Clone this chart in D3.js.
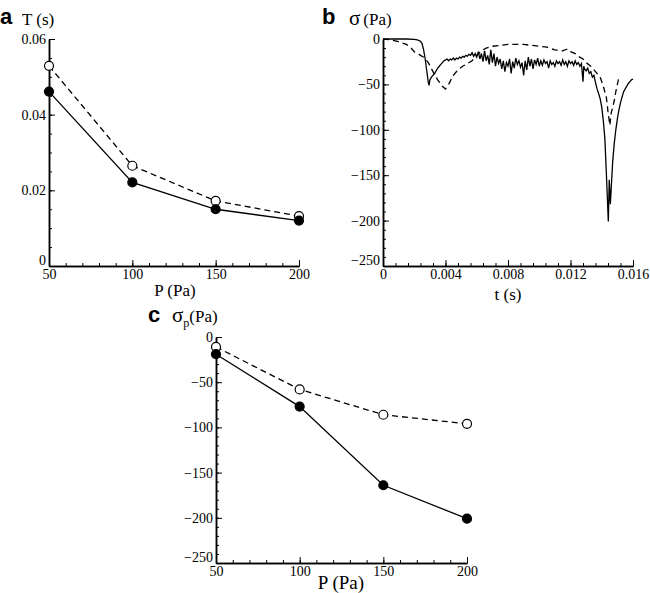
<!DOCTYPE html>
<html>
<head>
<meta charset="utf-8">
<script src="https://cdn.jsdelivr.net/npm/d3@7"></script>
<style>
  body { margin: 0; background: #fff; }
  svg text { font-family: "Liberation Serif", "DejaVu Serif", "Times New Roman", serif; fill: #000; }
  svg text.letter { font-family: "Liberation Sans", "DejaVu Sans", Arial, sans-serif; font-weight: bold; }
</style>
</head>
<body>
<svg id="chart" width="650" height="593"></svg>
<script>
// panel a / c pressures
let pressures = [50, 100, 150, 200];
let periodOpen = [0.0529, 0.0265, 0.0172, 0.0132];
let periodFilled = [0.0461, 0.0221, 0.0150, 0.0120];
let peakOpen = [-11, -58, -86, -96];
let peakFilled = [-19, -77, -164, -201];

// panel b time traces
let tSolid = [0, 0.0005, 0.001, 0.0015, 0.002, 0.0022, 0.0024, 0.0025, 0.0026, 0.0027, 0.0028, 0.0029, 0.00295,
  0.003, 0.0031, 0.0032, 0.0033, 0.0034, 0.0035, 0.0036, 0.0037, 0.0038, 0.0039,
  0.004, 0.0041, 0.0042, 0.0043, 0.0044, 0.0045, 0.0046, 0.0047, 0.0048, 0.0049,
  0.005, 0.0051, 0.0052, 0.0053, 0.0054, 0.0055, 0.0056, 0.0057, 0.0058, 0.0059,
  0.006, 0.0061, 0.0062, 0.0063, 0.0064, 0.0065, 0.0066, 0.0067, 0.0068, 0.0069,
  0.007, 0.0071, 0.0072, 0.0073, 0.0074, 0.0075, 0.0076, 0.0077, 0.0078, 0.0079,
  0.008, 0.0081, 0.0082, 0.0083, 0.0084, 0.0085, 0.0086, 0.0087, 0.0088, 0.0089,
  0.009, 0.0091, 0.0092, 0.0093, 0.0094, 0.0095, 0.0096, 0.0097, 0.0098, 0.0099,
  0.01, 0.0101, 0.0102, 0.0103, 0.0104, 0.0105, 0.0106, 0.0107, 0.0108, 0.0109,
  0.011, 0.0111, 0.0112, 0.0113, 0.0114, 0.0115, 0.0116, 0.0117, 0.0118, 0.0119,
  0.012, 0.0121, 0.0122, 0.0123, 0.0124, 0.0125, 0.0126, 0.0127, 0.0128, 0.01285, 0.0129,
  0.013, 0.0131, 0.0132, 0.0133, 0.0134, 0.0135, 0.0136, 0.0137, 0.0138, 0.0139,
  0.014, 0.0141, 0.0142, 0.0143, 0.01442, 0.01448, 0.01455, 0.0147, 0.0148, 0.0149,
  0.015, 0.0151, 0.0152, 0.0153, 0.0154, 0.0155, 0.0156, 0.0157, 0.0158, 0.0159, 0.016];
let sSolid = [0, 0, 0, 0, -0.5, -1, -2.5, -5, -12, -22, -35, -48, -51,
  -45, -42, -40, -38, -35, -32, -30, -28, -26, -24,
  -23, -22, -24, -22, -23, -21, -23, -21, -22, -20,
  -21, -19, -20, -18, -19, -17, -18, -15, -19, -16,
  -20, -14, -22, -16, -25, -13, -24, -18, -28, -12,
  -26, -16, -30, -20, -27, -22, -33, -24, -36, -26,
  -30, -22, -38, -25, -32, -21, -28, -24, -31, -26,
  -40, -24, -34, -20, -30, -22, -33, -23, -28, -21,
  -30, -24, -29, -23, -27, -25, -32, -24, -28, -26,
  -30, -24, -27, -25, -29, -23, -28, -25, -30, -24,
  -27, -25, -29, -24, -28, -26, -30, -27, -47, -30, -33,
  -35, -32, -38, -36, -42, -40, -48, -55, -60, -66,
  -75, -90, -110, -150, -201, -155, -182, -135, -115, -100,
  -88, -78, -70, -64, -58, -55, -52, -49, -47, -45, -44];

let tDashed = [0, 0.0005, 0.001, 0.0015, 0.0018, 0.002, 0.0023, 0.0026, 0.0029, 0.0032, 0.0035, 0.0038,
  0.004, 0.0042, 0.0045, 0.0048, 0.0051, 0.0054, 0.0057, 0.006, 0.0063, 0.0066, 0.007, 0.0075,
  0.008, 0.009, 0.01, 0.0105, 0.011, 0.0115, 0.0118, 0.012, 0.0123, 0.0125, 0.0128, 0.013,
  0.0133, 0.0136, 0.0139, 0.0141, 0.0143, 0.0144, 0.01452, 0.0146, 0.0148, 0.0149, 0.015, 0.0151];
let sDashed = [0, -1, -3, -6, -10, -14, -17, -20, -26, -36, -45, -52,
  -55, -50, -40, -34, -30, -27, -24, -18, -13, -10, -8, -7,
  -6, -6, -8, -9, -12, -13, -11, -14, -16, -19, -22, -26,
  -30, -36, -42, -52, -65, -80, -95, -82, -68, -58, -50, -42];

let svg = d3.select("#chart");
let serif = "'Liberation Serif', 'DejaVu Serif', serif";

let drawPanel = (o) => {
  let x = d3.scaleLinear().domain(o.xDomain).range([o.left, o.right]);
  let y = d3.scaleLinear().domain(o.yDomain).range([o.bottom, o.top]);
  let g = svg.append("g");

  // minor ticks
  g.append("g")
    .attr("transform", `translate(0, ${o.bottom})`)
    .call(d3.axisBottom(x).tickValues(o.xMinor).tickSize(-3).tickSizeOuter(0).tickFormat(""));
  g.append("g")
    .attr("transform", `translate(${o.left}, 0)`)
    .call(d3.axisLeft(y).tickValues(o.yMinor).tickSize(-3).tickSizeOuter(0).tickFormat(""));

  // major ticks
  g.append("g")
    .attr("transform", `translate(0, ${o.bottom})`)
    .call(d3.axisBottom(x).tickValues(o.xTicks).tickSize(-6).tickSizeOuter(0).tickPadding(3).tickFormat(o.xFormat));
  let ya = g.append("g")
    .attr("transform", `translate(${o.left}, 0)`)
    .call(d3.axisLeft(y).tickValues(o.yTicks).tickSize(-6).tickSizeOuter(0).tickPadding(3).tickFormat(o.yFormat));
  // lowest label sits a little higher, as in the original
  ya.selectAll(".tick text").filter(d => d === o.yDomain[0]).attr("dy", "-0.1em");

  g.selectAll(".domain").attr("stroke", "#000").attr("stroke-width", 1.5);
  g.selectAll(".tick line").attr("stroke", "#000").attr("stroke-width", 1);
  g.selectAll(".tick text").attr("font-family", serif).attr("font-size", 14).attr("fill", "#000");

  return { g, x, y };
};

let addSeries = (p, xs, ys, dashed, markers, filled) => {
  let pts = xs.map((v, i) => [v, ys[i]]);
  let line = d3.line().x(d => p.x(d[0])).y(d => p.y(d[1]));
  p.g.append("path")
    .datum(pts)
    .attr("fill", "none")
    .attr("stroke", "#000")
    .attr("stroke-width", 1.3)
    .attr("stroke-dasharray", dashed ? "6,4" : null)
    .attr("d", line);
  if (markers) {
    p.g.selectAll(null)
      .data(pts)
      .enter()
      .append("circle")
      .attr("cx", d => p.x(d[0]))
      .attr("cy", d => p.y(d[1]))
      .attr("r", 4.5)
      .attr("fill", filled ? "#000" : "#fff")
      .attr("stroke", "#000")
      .attr("stroke-width", 1.2);
  }
};

// ---- panel a
let pa = drawPanel({
  xDomain: [50, 200], yDomain: [0, 0.06],
  left: 49, right: 299, top: 39, bottom: 266,
  xTicks: [50, 100, 150, 200], xMinor: d3.range(50, 201, 10),
  yTicks: [0, 0.02, 0.04, 0.06], yMinor: d3.range(0, 0.0601, 0.005),
  xFormat: d3.format("d"), yFormat: d => d === 0 ? "0" : d3.format(".2f")(d)
});
addSeries(pa, pressures, periodOpen, true, true, false);
addSeries(pa, pressures, periodFilled, false, true, true);

// ---- panel b
let pb = drawPanel({
  xDomain: [0, 0.016], yDomain: [-250, 0],
  left: 383, right: 633, top: 39, bottom: 266,
  xTicks: [0, 0.004, 0.008, 0.012, 0.016], xMinor: d3.range(0, 0.01601, 0.0008),
  yTicks: [-250, -200, -150, -100, -50, 0], yMinor: d3.range(-250, 1, 10),
  xFormat: d => d === 0 ? "0" : d3.format(".3f")(d), yFormat: d3.format("d")
});
addSeries(pb, tDashed, sDashed, true, false, false);
addSeries(pb, tSolid, sSolid, false, false, false);

// ---- panel c
let pc = drawPanel({
  xDomain: [50, 200], yDomain: [-250, 0],
  left: 216, right: 467, top: 337, bottom: 563,
  xTicks: [50, 100, 150, 200], xMinor: d3.range(50, 201, 10),
  yTicks: [-250, -200, -150, -100, -50, 0], yMinor: d3.range(-250, 1, 10),
  xFormat: d3.format("d"), yFormat: d3.format("d")
});
addSeries(pc, pressures, peakOpen, true, true, false);
addSeries(pc, pressures, peakFilled, false, true, true);

// labels
let label = (x, y, txt, size, cls, anchor) => {
  let t = svg.append("text")
    .attr("x", x).attr("y", y)
    .attr("font-size", size)
    .attr("text-anchor", anchor || "start")
    .text(txt);
  if (cls) t.attr("class", cls).attr("font-family", "'Liberation Sans', sans-serif").attr("font-weight", "bold");
  else t.attr("font-family", serif);
  return t;
};

label(0, 24, "a", 22, "letter");
label(22, 25, "T (s)", 17);
label(175, 296, "P (Pa)", 17, null, "middle");

label(322, 24, "b", 22, "letter");
let sb = label(349, 25, "", 17);
sb.append("tspan").attr("font-size", 21).text("σ");
sb.append("tspan").attr("dx", 3).text("(Pa)");
label(508, 300, "t (s)", 17, null, "middle");

label(148, 322, "c", 22, "letter");
let sc = label(172, 322, "", 17);
sc.append("tspan").attr("font-size", 21).text("σ");
sc.append("tspan").attr("font-size", 12).attr("dy", 5).text("p");
sc.append("tspan").attr("dy", -5).text("(Pa)");
label(341, 589, "P (Pa)", 19, null, "middle");
</script>
</body>
</html>
